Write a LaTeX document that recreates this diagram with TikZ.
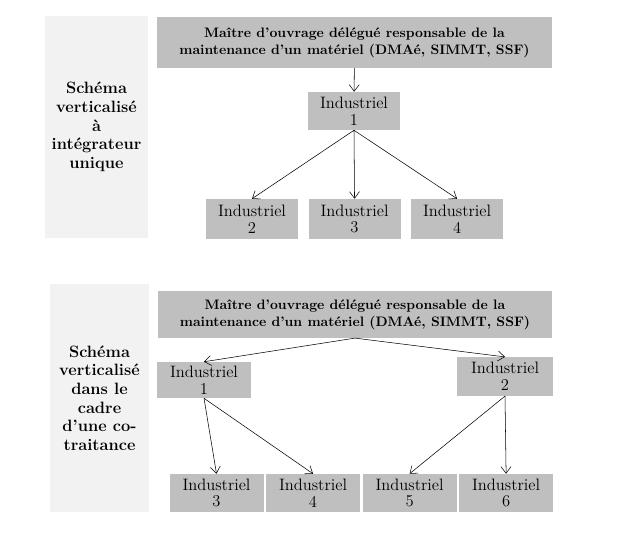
\documentclass[tikz,border=0pt]{standalone}
\usepackage{tikz}
\usetikzlibrary{arrows.meta,positioning}
\definecolor{boxgray}{HTML}{BFBFBF}
\definecolor{panelgray}{HTML}{F2F2F2}
\tikzset{
    -{Straight Barb[length=5pt,width=7.5pt]},node distance =1.5pt and 7.5pt,semithick,
    panel/.style ={fill=panelgray, align=center, inner sep=0pt, font=\fontsize{12.3}{14}\selectfont\bfseries},
    maitre/.style = {fill=boxgray, align=center, minimum width=296pt, minimum height=37pt, font=\fontsize{10.3}{12.6}\selectfont\bfseries},
    indus/.style = {fill=boxgray, align=center, minimum width=69pt, minimum height=29pt, inner sep=1pt, font=\fontsize{12.4}{12.4}\selectfont}
}
\begin{document}
\begin{tikzpicture}[x=0.75pt,y=-0.75pt]
	\useasboundingbox (0,0) rectangle (639,544);
	% schema a integrateur unique
	\node[panel, minimum width=77pt, minimum height=166.5pt] (pa) at (96.5,127) {Schéma\\verticalisé\\à\\intégrateur\\unique};
	\node[maitre, minimum height=38pt] (ma) at (354.5,42.5) {Maître d’ouvrage délégué responsable de la\\maintenance d’un matériel (DMAé, SIMMT, SSF)};
	\node[indus, minimum height=28.5pt] (a1) at (354,111) {Industriel\\1};
	\node[indus, minimum height=30pt] (a2) at (252,219) {Industriel\\2};
	\node[indus, minimum height=30pt] (a3) [right = of a2] {Industriel\\3};
	\node[indus, minimum height=30pt] (a4) [right = of a3] {Industriel\\4};

	\path (ma) edge (a1);
	\path (a1.south) edge (a2.north);
	\path (a1.south) edge (a3.north);
	\path (a1.south) edge (a4.north);

	% schema co-traitance
	\node[panel, minimum width=74.25pt, minimum height=171pt] (pb) at (99.5,398) {Schéma\\verticalisé\\dans le\\cadre\\d’une co-\\traitance};
	\node[maitre, minimum height=35pt] (mb) at (355,314.5) {Maître d’ouvrage délégué responsable de la\\maintenance d’un matériel (DMAé, SIMMT, SSF)};
	\node[indus, minimum width=70.5pt, minimum height=27pt] (b1) at (204,380) {Industriel\\1};
	\node[indus, minimum width=72pt, minimum height=29pt] (b2) at (505,376.5) {Industriel\\2};
	\node[indus, minimum width=70.5pt, minimum height=28.5pt] (b3) at (216.5,493) {Industriel\\3};
	\node[indus, minimum width=70.5pt, minimum height=28.5pt] (b4) [right = 1.5pt of b3] {Industriel\\4};
	\node[indus, minimum width=70.5pt, minimum height=28.5pt] (b5) [right = 1.5pt of b4] {Industriel\\5};
	\node[indus, minimum width=70.5pt, minimum height=28.5pt] (b6) [right = 1.5pt of b5] {Industriel\\6};

	\path (mb.south) edge (b1.north);
	\path (mb.south) edge (b2.north);
	\path (b1.south) edge (b3.north);
	\path (b1.south) edge (b4.north);
	\path (b2.south) edge (b5.north);
	\path (b2.south) edge (b6.north);
\end{tikzpicture}
\end{document}
